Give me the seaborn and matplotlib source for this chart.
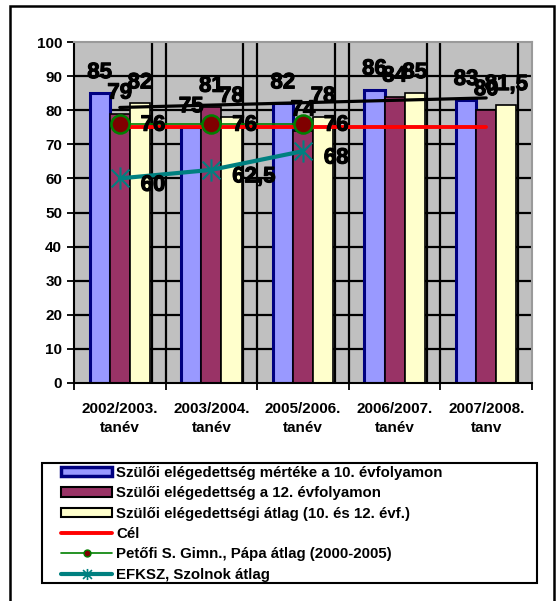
import numpy as np
import pandas as pd
import matplotlib
matplotlib.use('Agg')
import matplotlib.pyplot as plt
import matplotlib.patheffects as pe
import seaborn as sns
from matplotlib.lines import Line2D
from matplotlib.patches import Patch, Rectangle
from matplotlib.path import Path

# data
tanevek = ['2002/2003.\ntanév', '2003/2004.\ntanév', '2005/2006.\ntanév',
           '2006/2007.\ntanév', '2007/2008.\ntanv']
evf10 = [85, 75, 82, 86, 83]
evf12 = [79, 81, 74, 84, 80]
atlag = [82, 78, 78, 85, 81.5]
cel = [75, 75, 75, 75, 75]
petofi = [76, 76, 76]
efksz = [60, 62.5, 68]

bar_nevek = ['Szülői elégedettség mértéke a 10. évfolyamon',
             'Szülői elégedettség a 12. évfolyamon',
             'Szülői elégedettségi átlag (10. és 12. évf.)']
vonal_nevek = ['Cél', 'Petőfi S. Gimn., Pápa átlag (2000-2005)', 'EFKSZ, Szolnok átlag']

bar_szinek = ['#9999FF', '#993366', '#FFFFCC']
W, H = 557, 601


def fmt(v):
    return f'{v:g}'.replace('.', ',')


sns.set_style('ticks')
plt.rcParams['font.family'] = ['Liberation Sans', 'DejaVu Sans']
plt.rcParams['font.weight'] = 'bold'
plt.rcParams['text.color'] = 'black'
plt.rcParams['xtick.color'] = 'black'
plt.rcParams['ytick.color'] = 'black'
plt.rcParams['axes.labelcolor'] = 'black'

df = pd.DataFrame({
    'tanev': tanevek * 3,
    'sor': np.repeat(bar_nevek, len(tanevek)),
    'ertek': evf10 + evf12 + atlag,
})

fig = plt.figure(figsize=(W / 100, H / 100), dpi=100)
ax = fig.add_axes([74 / W, 1 - 383 / H, 458 / W, 341 / H])
ax.set_facecolor('#C0C0C0')

sns.barplot(data=df, x='tanev', y='ertek', hue='sor', hue_order=bar_nevek,
            order=tanevek, palette=bar_szinek, saturation=1, width=0.66,
            edgecolor='black', linewidth=1.2, legend=False, ax=ax, zorder=2)

# blue bars get the navy outline
for bar in ax.containers[0]:
    bar.set_edgecolor('#000080')
    bar.set_linewidth(2.2)

heavy = [pe.withStroke(linewidth=0.8, foreground='black')]

# data labels above bars
for cont, vals in zip(ax.containers, [evf10, evf12, atlag]):
    for bar, v in zip(cont, vals):
        ax.text(bar.get_x() + bar.get_width() / 2, v + 4.4, fmt(v), color='black',
                ha='center', va='baseline', fontsize=16, fontweight='bold',
                path_effects=heavy, zorder=6)

pos = np.arange(len(tanevek))

# trendline of the 10th grade series
sns.regplot(x=pos, y=np.array(evf10, dtype=float), scatter=False, ci=None,
            color='black', line_kws=dict(lw=2.3, zorder=3), ax=ax)

sns.lineplot(x=pos[:len(cel)], y=cel, color='#FF0000', lw=2.8, ax=ax, zorder=3)

sns.lineplot(x=pos[:len(petofi)], y=petofi, color='#008000', lw=1.2, marker='o',
             markersize=13, markerfacecolor='#800000', markeredgecolor='#008000',
             markeredgewidth=1.8, ax=ax, zorder=4)

aster = Path([(0, -1), (0, 1), (-0.8, -0.8), (0.8, 0.8), (-0.8, 0.8), (0.8, -0.8)],
             [Path.MOVETO, Path.LINETO] * 3)
sns.lineplot(x=pos[:len(efksz)], y=efksz, color='#008080', lw=3, marker=aster,
             markersize=16, markerfacecolor='none', markeredgecolor='#008080',
             markeredgewidth=1.5, ax=ax, zorder=4)

for i, v in enumerate(petofi):
    ax.annotate(fmt(v), (pos[i], v), xytext=(15, -1), textcoords='offset points',
                ha='left', va='center', fontsize=16, fontweight='bold',
                color='black', path_effects=heavy, zorder=6)
for i, v in enumerate(efksz):
    ax.annotate(fmt(v), (pos[i], v), xytext=(15, -5), textcoords='offset points',
                ha='left', va='center', fontsize=16, fontweight='bold',
                color='black', path_effects=heavy, zorder=6)

# grid
ax.set_ylim(0, 100)
ax.set_xlim(-0.5, len(tanevek) - 0.5)
ax.set_yticks(range(0, 101, 10))
for y in range(10, 100, 10):
    ax.axhline(y, color='black', lw=1.6, zorder=0.5)
for k in range(len(tanevek) - 1):
    ax.axvline(k + 0.5, color='black', lw=1.6, zorder=0.5)
for k in range(len(tanevek)):
    ax.axvline(k + 0.35, color='black', lw=1.6, zorder=0.5)

ax.set_xlabel('')
ax.set_ylabel('')
ax.set_xticks(pos)
ax.set_xticklabels(tanevek, fontsize=11, fontweight='bold', linespacing=1.45)
ax.set_xticks(np.arange(-0.5, len(tanevek)), minor=True)
ax.tick_params(axis='x', which='major', length=0, pad=14)
ax.tick_params(axis='x', which='minor', length=5, width=1.3, direction='out')
ax.tick_params(axis='y', length=5, width=1.3, direction='out', labelsize=11)
for lab in ax.get_yticklabels():
    lab.set_fontweight('bold')

for s in ['left', 'bottom']:
    ax.spines[s].set_color('black')
    ax.spines[s].set_linewidth(1.5)
for s in ['top', 'right']:
    ax.spines[s].set_visible(True)
    ax.spines[s].set_color('#9a9a9a')
    ax.spines[s].set_linewidth(1.5)

# legend
handles = [
    Patch(facecolor=bar_szinek[0], edgecolor='#000080', lw=2.5),
    Patch(facecolor=bar_szinek[1], edgecolor='black', lw=1.5),
    Patch(facecolor=bar_szinek[2], edgecolor='black', lw=1.5),
    Line2D([], [], color='#FF0000', lw=2.8),
    Line2D([], [], color='#008000', lw=1.2, marker='o', ms=5,
           mfc='#800000', mec='#008000'),
    Line2D([], [], color='#008080', lw=3, marker=aster, ms=8, mfc='none',
           mec='#008080', mew=1.2),
]
fig.legend(handles, bar_nevek + vonal_nevek, loc='upper left',
           bbox_to_anchor=(61 / W, 1 - 466 / H), frameon=False,
           prop={'family': 'Liberation Sans', 'weight': 'bold', 'size': 10.8},
           handlelength=3.4, handleheight=0.55, labelspacing=0.42,
           handletextpad=0.3, borderpad=0, borderaxespad=0)
fig.patches.append(Rectangle((42 / W, 1 - 583 / H), (537 - 42) / W, 120 / H,
                             transform=fig.transFigure, fill=False,
                             ec='black', lw=1.5))
# outer chart frame
fig.patches.append(Rectangle((10 / W, -0.05), (554 - 10) / W, 1.05 - 6 / H,
                             transform=fig.transFigure, fill=False,
                             ec='black', lw=1.8))

fig.savefig('out.png', dpi=100)
